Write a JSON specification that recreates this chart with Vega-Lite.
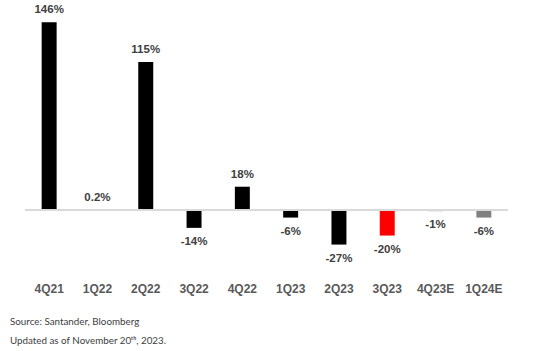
{
  "$schema": "https://vega.github.io/schema/vega-lite/v6.json",
  "width": 483,
  "height": 261,
  "autosize": {"type": "none"},
  "padding": {"left": 25, "top": 17, "right": 26, "bottom": 73},
  "background": "white",
  "config": {"view": {"stroke": null}},
  "title": {
    "text": ["Source: Santander, Bloomberg", "Updated as of November 20ᵗʰ, 2023."],
    "orient": "bottom",
    "anchor": "start",
    "frame": "group",
    "dx": -15,
    "offset": 23,
    "font": "Lato",
    "fontSize": 9.8,
    "fontWeight": "normal",
    "color": "#404040",
    "lineHeight": 19
  },
  "data": {
    "values": [
      {"quarter": "4Q21", "value": 146, "label": "146%", "type": "actual"},
      {"quarter": "1Q22", "value": 0.2, "label": "0.2%", "type": "actual"},
      {"quarter": "2Q22", "value": 115, "label": "115%", "type": "actual"},
      {"quarter": "3Q22", "value": -14, "label": "-14%", "type": "actual"},
      {"quarter": "4Q22", "value": 18, "label": "18%", "type": "actual"},
      {"quarter": "1Q23", "value": -6, "label": "-6%", "type": "actual"},
      {"quarter": "2Q23", "value": -27, "label": "-27%", "type": "actual"},
      {"quarter": "3Q23", "value": -20, "label": "-20%", "type": "latest"},
      {"quarter": "4Q23E", "value": -1, "label": "-1%", "type": "estimate"},
      {"quarter": "1Q24E", "value": -6, "label": "-6%", "type": "estimate"}
    ]
  },
  "encoding": {
    "x": {
      "field": "quarter",
      "type": "nominal",
      "sort": null,
      "scale": {"paddingInner": 0.69, "paddingOuter": 0.345},
      "axis": {
        "title": null,
        "labelAngle": 0,
        "ticks": false,
        "domain": false,
        "labelPadding": 5,
        "labelFont": "Liberation Sans",
        "labelFontSize": 12,
        "labelFontWeight": "bold",
        "labelColor": "#595959"
      }
    },
    "y": {
      "field": "value",
      "type": "quantitative",
      "scale": {"domain": [-53, 150], "nice": false, "zero": false},
      "axis": null
    }
  },
  "layer": [
    {
      "mark": {"type": "bar"},
      "encoding": {
        "color": {
          "field": "type",
          "type": "nominal",
          "scale": {"domain": ["actual", "latest", "estimate"], "range": ["#000000", "#ff0000", "#808080"]},
          "legend": null
        }
      }
    },
    {
      "mark": {"type": "rule", "color": "#d9d9d9", "strokeWidth": 1.5},
      "encoding": {"y": {"datum": 0}, "x": {}}
    },
    {
      "transform": [{"filter": "datum.value >= 0"}],
      "mark": {"type": "text", "baseline": "bottom", "dy": -7, "font": "Liberation Sans", "fontSize": 11.5, "fontWeight": "bold", "color": "#404040"},
      "encoding": {"text": {"field": "label"}}
    },
    {
      "transform": [{"filter": "datum.value < 0"}],
      "mark": {"type": "text", "baseline": "top", "dy": 8, "font": "Liberation Sans", "fontSize": 11.5, "fontWeight": "bold", "color": "#404040"},
      "encoding": {"text": {"field": "label"}}
    }
  ]
}
